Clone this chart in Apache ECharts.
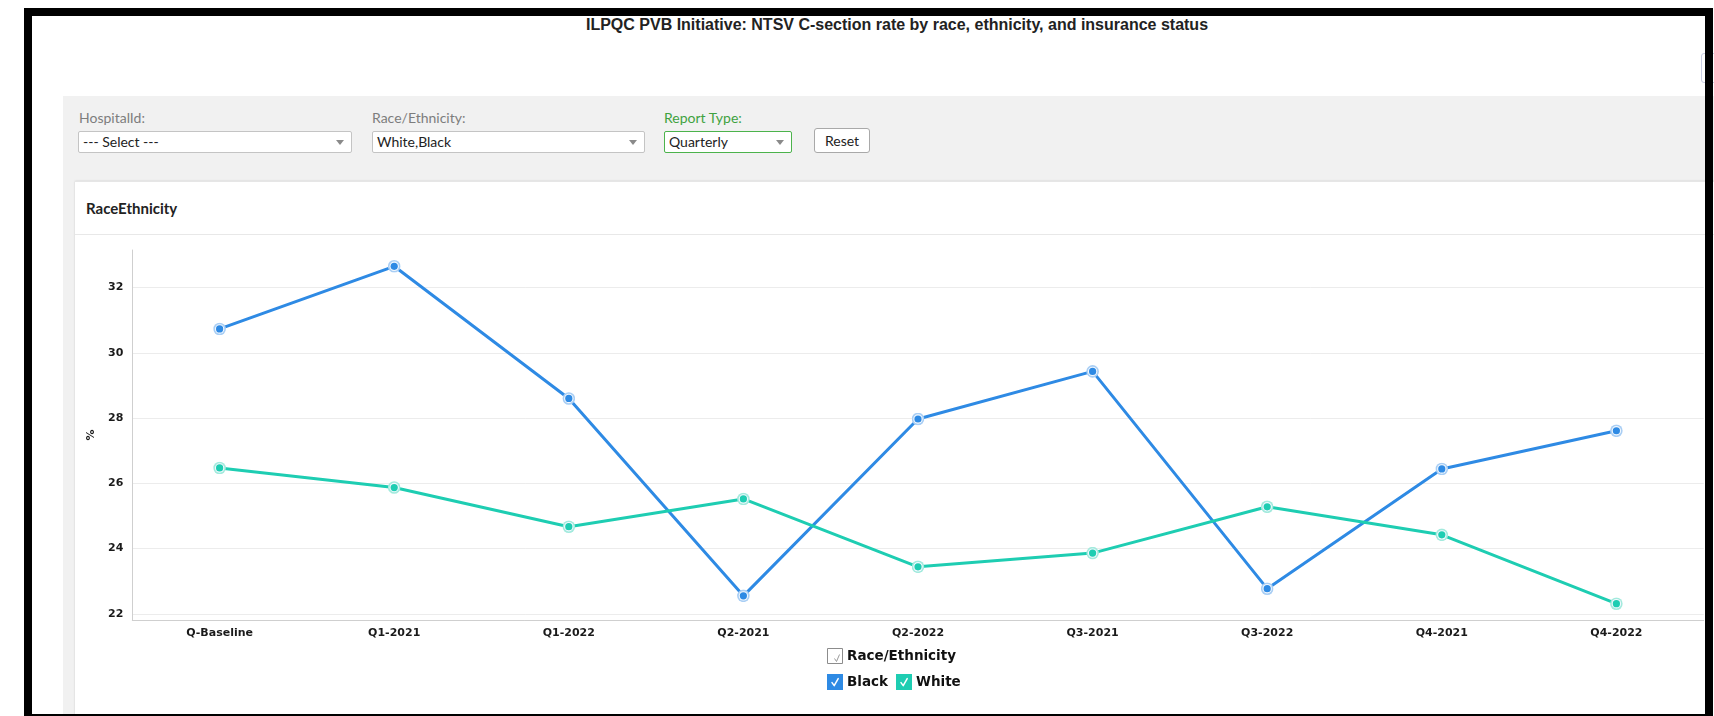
<!DOCTYPE html>
<html><head><meta charset="utf-8">
<script src="https://cdn.jsdelivr.net/npm/echarts@6/dist/echarts.min.js"></script>
<style>
html,body{margin:0;padding:0;width:1714px;height:716px;overflow:hidden;background:#fff;position:relative;font-family:Lato,'Noto Sans',sans-serif;}
.abs{position:absolute;box-sizing:border-box;}
.lbl{font-size:14px;line-height:16px;color:#7d7d7d;white-space:nowrap;}
.sel{height:22px;background:#fff;border:1px solid #c4c4c4;border-radius:2px;font-size:14px;color:#222;line-height:20px;padding-left:4px;white-space:nowrap;}
.caret{position:absolute;right:7px;top:8px;width:0;height:0;border-left:4px solid transparent;border-right:4px solid transparent;border-top:5px solid #8a8a8a;}
.blk{position:absolute;background:#000;z-index:10;}
</style></head><body>
<div class="abs" style="left:0;top:16px;width:1794px;text-align:center;font:bold 16px/18px 'Liberation Sans',Arial,sans-serif;color:#222;white-space:nowrap">ILPQC PVB Initiative: NTSV C-section rate by race, ethnicity, and insurance status</div>
<div class="abs" style="left:1701px;top:53px;width:20px;height:30px;border:1px solid #c9cde3;border-radius:3px;"></div>
<div class="abs" style="left:63px;top:96px;width:1700px;height:700px;background:#f1f1f1"></div>

<div class="abs lbl" style="left:79px;top:110px;">HospitalId:</div>
<div class="abs sel" style="left:78px;top:131px;width:274px;">--- Select ---<span class="caret"></span></div>

<div class="abs lbl" style="left:372px;top:110px;">Race/Ethnicity:</div>
<div class="abs sel" style="left:372px;top:131px;width:273px;">White,Black<span class="caret"></span></div>

<div class="abs lbl" style="left:664px;top:110px;color:#3fa23f;">Report Type:</div>
<div class="abs sel" style="left:664px;top:131px;width:128px;border-color:#4cb34c;">Quarterly<span class="caret"></span></div>

<div class="abs" style="left:814px;top:128px;width:56px;height:25px;background:#fff;border:1px solid #a9a9a9;border-radius:3px;font-size:14px;line-height:23px;text-align:center;color:#222;">Reset</div>

<div class="abs" style="left:75px;top:181px;width:1700px;height:600px;background:#fff;box-shadow:0 0 2px rgba(0,0,0,0.15);border-top:1px solid #e6e6e6;"></div>
<div class="abs" style="left:86px;top:199px;font-size:15px;line-height:19px;font-weight:bold;color:#222;white-space:nowrap;">RaceEthnicity</div>
<div class="abs" style="left:75px;top:234px;width:1700px;height:1px;background:#e8e8e8;"></div>

<div id="chart" class="abs" style="left:75px;top:236px;width:1640px;height:480px;"></div>

<div class="blk" style="left:24px;top:8px;width:1689px;height:8px;"></div>
<div class="blk" style="left:24px;top:8px;width:8px;height:708px;"></div>
<div class="blk" style="left:1705px;top:8px;width:8px;height:708px;"></div>
<div class="blk" style="left:24px;top:714px;width:1689px;height:2px;"></div>

<script>
const categories = ['Q-Baseline','Q1-2021','Q1-2022','Q2-2021','Q2-2022','Q3-2021','Q3-2022','Q4-2021','Q4-2022'];
const blackValues = [30.73, 32.65, 28.60, 22.55, 27.97, 29.43, 22.77, 26.44, 27.61];
const whiteValues = [26.47, 25.87, 24.67, 25.52, 23.44, 23.86, 25.28, 24.42, 22.31];
const seriesNames = ['Black', 'White'];
const legendTitle = 'Race/Ethnicity';
const yAxisName = '%';

const BLUE = '#2E8AE4', BLUE_L = '#a9cef4';
const TEAL = '#1ECDB2', TEAL_L = '#a3eadd';

function svgUri(s){ return 'image://data:image/svg+xml;charset=utf-8,' + encodeURIComponent(s); }
function markerSvg(c, l){
  return svgUri("<svg xmlns='http://www.w3.org/2000/svg' width='26' height='26' viewBox='0 0 13 13'><circle cx='6.5' cy='6.5' r='6.3' fill='"+l+"'/><circle cx='6.5' cy='6.5' r='4.7' fill='#f2f8fe'/><circle cx='6.5' cy='6.5' r='3.6' fill='"+c+"'/></svg>");
}
function checkSvg(c){
  return svgUri("<svg xmlns='http://www.w3.org/2000/svg' width='32' height='32' viewBox='0 0 16 16'><rect width='16' height='16' fill='"+c+"'/><path d='M5 8.6 L7.2 11.6 L11.2 4.6' stroke='#fff' stroke-width='1.5' fill='none' stroke-linecap='round' stroke-linejoin='round'/></svg>");
}

const chart = echarts.init(document.getElementById('chart'), null, {renderer:'canvas'});
const labelFont = {fontFamily:'DejaVu Sans', fontWeight:'bold', fontSize:11, color:'#1a1a1a'};
const option = {
  animation:false,
  grid:{left:57.3, top:14, right:11.3, height:370, containLabel:false},
  xAxis:{
    type:'category', data:categories, boundaryGap:true,
    axisLine:{show:true, lineStyle:{color:'#cfcfcf', width:1}},
    axisTick:{show:false},
    axisLabel:Object.assign({margin:8, interval:0}, labelFont),
    splitLine:{show:false}
  },
  yAxis:{
    type:'value',
    min:function(v){return v.min - 0.5;},
    max:function(v){return v.max + 0.5;},
    name:yAxisName, nameLocation:'middle', nameGap:34,
    nameTextStyle:{fontFamily:'DejaVu Sans', fontWeight:'bold', fontSize:11, color:'#1a1a1a'},
    axisLine:{show:true, lineStyle:{color:'#cfcfcf', width:1}},
    axisTick:{show:false},
    axisLabel:Object.assign({margin:9, showMinLabel:false, showMaxLabel:false}, labelFont),
    splitLine:{show:true, showMinLine:false, showMaxLine:false, lineStyle:{color:'#ececec', width:1}}
  },
  legend:{
    left:752, top:438, itemWidth:16, itemHeight:16, itemGap:8, padding:0,
    data:[{name:seriesNames[0], icon:checkSvg(BLUE)},{name:seriesNames[1], icon:checkSvg(TEAL)}],
    textStyle:{fontFamily:'DejaVu Sans', fontWeight:'bold', fontSize:13.5, color:'#111', padding:[0,0,0,-1]}
  },
  graphic:[
    {type:'rect', left:752, top:412, shape:{width:15, height:15}, style:{fill:'#fff', stroke:'#8c8c8c', lineWidth:1}},
    {type:'polyline', left:757, top:416, shape:{points:[[0,4],[2,7],[5,0]]}, style:{stroke:'#9a9a9a', lineWidth:1, fill:null}},
    {type:'text', left:772, top:413, style:{text:legendTitle, font:"bold 13.5px 'DejaVu Sans'", fill:'#111'}}
  ],
  series:[
    {name:seriesNames[0], type:'line', data:blackValues, color:BLUE,
     lineStyle:{width:3, color:BLUE}, symbol:markerSvg(BLUE, BLUE_L), symbolSize:13, showSymbol:true},
    {name:seriesNames[1], type:'line', data:whiteValues, color:TEAL,
     lineStyle:{width:3, color:TEAL}, symbol:markerSvg(TEAL, TEAL_L), symbolSize:13, showSymbol:true}
  ]
};
chart.setOption(option);
</script>
</body></html>
